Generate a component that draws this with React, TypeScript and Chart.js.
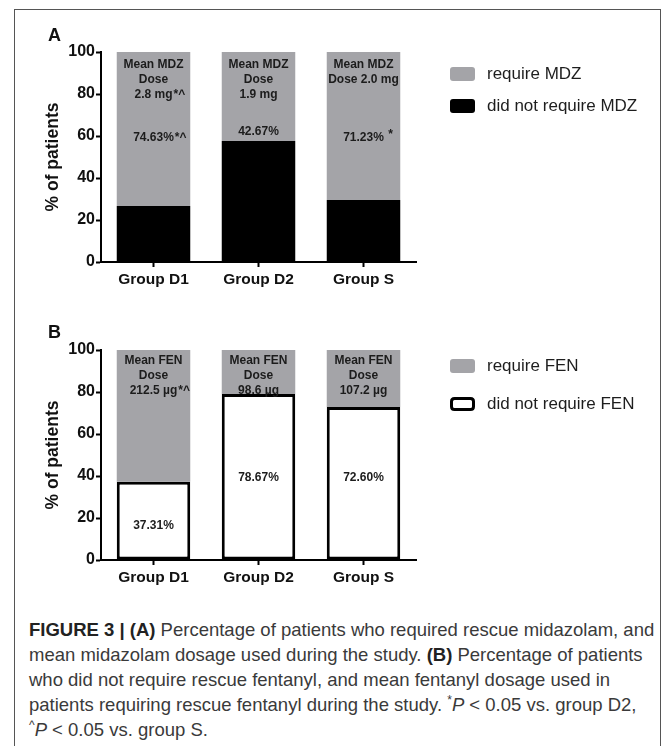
import React, { useEffect, useRef } from "react";
import { Chart, registerables } from "chart.js";

Chart.register(...registerables);

const categories = ["Group D1", "Group D2", "Group S"];
const yTicks = [0, 20, 40, 60, 80, 100];

// Panel A — midazolam
const mdzNotRequired = [26.7, 57.6, 29.5];
const mdzRequired = [73.3, 42.4, 70.5];
const mdzDoseLines = [
  ["Mean MDZ", "Dose", "2.8 mg"],
  ["Mean MDZ", "Dose", "1.9 mg"],
  ["Mean MDZ", "Dose 2.0 mg"],
];
const mdzDoseSig = ["*^", "", ""];
const mdzPctLabels = ["74.63%", "42.67%", "71.23%"];
const mdzPctSig = ["*^", "", " *"];

// Panel B — fentanyl
const fenNotRequired = [37.3, 79.0, 72.9];
const fenRequired = [62.7, 21.0, 27.1];
const fenDoseLines = [
  ["Mean FEN", "Dose", "212.5 µg"],
  ["Mean FEN", "Dose", "98.6 µg"],
  ["Mean FEN", "Dose", "107.2 µg"],
];
const fenDoseSig = ["*^", "", ""];
const fenPctLabels = ["37.31%", "78.67%", "72.60%"];
const fenPctSig = ["", "", ""];

const FONT = '"Liberation Sans", Arial, Helvetica, sans-serif';
const GRAY = "#a4a4a8";

type PanelCfg = {
  panel: string;
  panelDy: number;
  doseLines: string[][];
  doseSig: string[];
  doseTop: number;
  doseStep: number;
  pctLabels: string[];
  pctSig: string[];
  mode: "A" | "B";
  legendTop: number;
  legendStep: number;
};

function roundRect(ctx: CanvasRenderingContext2D, x: number, y: number, w: number, h: number, r: number) {
  ctx.beginPath();
  ctx.moveTo(x + r, y);
  ctx.lineTo(x + w - r, y);
  ctx.quadraticCurveTo(x + w, y, x + w, y + r);
  ctx.lineTo(x + w, y + h - r);
  ctx.quadraticCurveTo(x + w, y + h, x + w - r, y + h);
  ctx.lineTo(x + r, y + h);
  ctx.quadraticCurveTo(x, y + h, x, y + h - r);
  ctx.lineTo(x, y + r);
  ctx.quadraticCurveTo(x, y, x + r, y);
  ctx.closePath();
}

function makePlugin(cfg: PanelCfg) {
  return {
    id: "annot" + cfg.panel,
    afterDraw(chart: any) {
      const ctx: CanvasRenderingContext2D = chart.ctx;
      const xs = chart.scales.x;
      const ys = chart.scales.y;
      const area = chart.chartArea;
      const base = chart.data.datasets[0].data as number[];
      ctx.save();
      // panel letter
      ctx.fillStyle = "#111";
      ctx.textBaseline = "middle";
      ctx.textAlign = "left";
      ctx.font = `bold 18px ${FONT}`;
      ctx.fillText(cfg.panel, 48, area.top - cfg.panelDy);

      // in-bar texts
      ctx.font = `bold 12px ${FONT}`;
      ctx.fillStyle = "#1c1c1c";
      categories.forEach((_, i) => {
        const cx = xs.getPixelForValue(i);
        const topPx = ys.getPixelForValue(100);
        const lines = cfg.doseLines[i];
        lines.forEach((t, j) => {
          const ly = topPx + cfg.doseTop + j * cfg.doseStep;
          ctx.textAlign = "center";
          ctx.fillText(t, cx, ly);
          if (j === lines.length - 1 && cfg.doseSig[i]) {
            const w = ctx.measureText(t).width;
            ctx.textAlign = "left";
            ctx.fillText(cfg.doseSig[i], cx + w / 2 + 1, ly);
          }
        });
        let py: number;
        const vTop = ys.getPixelForValue(base[i]);
        if (cfg.mode === "A") {
          py = Math.min(ys.getPixelForValue(59), vTop - 9);
        } else {
          py = base[i] > 60 ? ys.getPixelForValue(39) : (ys.getPixelForValue(0) + vTop) / 2 + 5;
        }
        const t = cfg.pctLabels[i];
        ctx.textAlign = "center";
        ctx.fillText(t, cx, py);
        if (cfg.pctSig[i]) {
          const w = ctx.measureText(t).width;
          ctx.textAlign = "left";
          ctx.fillText(cfg.pctSig[i], cx + w / 2 + 1, py - (cfg.pctSig[i].trim() === "*" ? 3 : 0));
        }
      });

      // legend (top item = top stack segment)
      const ds = chart.data.datasets.slice().reverse();
      const bx = area.right + 34;
      ds.forEach((d: any, k: number) => {
        const cy = area.top + cfg.legendTop + k * cfg.legendStep;
        const bw = d.borderWidth || 0;
        if (bw > 0) {
          roundRect(ctx, bx + bw / 2, cy - 7 + bw / 2, 25 - bw, 14 - bw, 3);
          ctx.fillStyle = d.backgroundColor;
          ctx.fill();
          ctx.lineWidth = bw;
          ctx.strokeStyle = d.borderColor;
          ctx.stroke();
        } else {
          roundRect(ctx, bx, cy - 7, 25, 14, 3);
          ctx.fillStyle = d.backgroundColor;
          ctx.fill();
        }
        ctx.fillStyle = "#1e1e1e";
        ctx.font = `17px ${FONT}`;
        ctx.textAlign = "left";
        ctx.textBaseline = "middle";
        ctx.fillText(d.label, 487, cy);
      });
      ctx.restore();
    },
  };
}

function makeConfig(
  bottomData: number[],
  topData: number[],
  bottomLabel: string,
  topLabel: string,
  bottomStyle: any,
  padTop: number,
  xHeight: number,
  cfg: PanelCfg
): any {
  return {
    type: "bar",
    data: {
      labels: categories,
      datasets: [
        {
          label: bottomLabel,
          data: bottomData,
          ...bottomStyle,
          barPercentage: 0.7,
          categoryPercentage: 1,
        },
        {
          label: topLabel,
          data: topData,
          backgroundColor: GRAY,
          borderWidth: 0,
          barPercentage: 0.7,
          categoryPercentage: 1,
        },
      ],
    },
    options: {
      animation: false,
      responsive: false,
      maintainAspectRatio: false,
      layout: { padding: { left: 0, top: padTop, right: 253, bottom: 0 } },
      plugins: { legend: { display: false }, tooltip: { enabled: false } },
      scales: {
        x: {
          stacked: true,
          grid: {
            display: true,
            drawOnChartArea: false,
            drawTicks: true,
            tickLength: 5,
            tickWidth: 2,
            tickColor: "#000",
            offset: false,
          },
          border: { display: true, color: "#000", width: 2 },
          ticks: { color: "#111", font: { family: FONT, size: 15.5, weight: "bold" }, padding: 3 },
          afterFit: (s: any) => {
            s.height = xHeight;
          },
        },
        y: {
          stacked: true,
          min: 0,
          max: 100,
          afterBuildTicks: (s: any) => {
            s.ticks = yTicks.map((v) => ({ value: v }));
          },
          grid: {
            display: true,
            drawOnChartArea: false,
            drawTicks: true,
            tickLength: 5,
            tickWidth: 2,
            tickColor: "#000",
          },
          border: { display: true, color: "#000", width: 2 },
          ticks: { color: "#111", font: { family: FONT, size: 16, weight: "bold" }, padding: 1 },
          title: {
            display: true,
            text: "% of patients",
            color: "#111",
            font: { family: FONT, size: 17.5, weight: "bold" },
            padding: { top: 43, bottom: 0 },
          },
          afterFit: (s: any) => {
            s.width = 101;
          },
        },
      },
    },
    plugins: [makePlugin(cfg)],
  };
}

function Panel({ config, top }: { config: any; top: number }) {
  const ref = useRef<HTMLCanvasElement | null>(null);
  useEffect(() => {
    if (!ref.current) return;
    const chart = new Chart(ref.current, config);
    return () => chart.destroy();
  }, [config]);
  return (
    <canvas
      ref={ref}
      width={669}
      height={300}
      style={{ position: "absolute", left: 0, top, width: 669, height: 300 }}
    />
  );
}

const configA = makeConfig(
  mdzNotRequired,
  mdzRequired,
  "did not require MDZ",
  "require MDZ",
  { backgroundColor: "#000", borderWidth: 0 },
  52,
  38,
  {
    panel: "A",
    panelDy: 16,
    doseLines: mdzDoseLines,
    doseSig: mdzDoseSig,
    doseTop: 13,
    doseStep: 15,
    pctLabels: mdzPctLabels,
    pctSig: mdzPctSig,
    mode: "A",
    legendTop: 22,
    legendStep: 32,
  }
);

const configB = makeConfig(
  fenNotRequired,
  fenRequired,
  "did not require FEN",
  "require FEN",
  { backgroundColor: "#fff", borderColor: "#000", borderWidth: 3, borderSkipped: false },
  50,
  40,
  {
    panel: "B",
    panelDy: 17,
    doseLines: fenDoseLines,
    doseSig: fenDoseSig,
    doseTop: 11,
    doseStep: 14.7,
    pctLabels: fenPctLabels,
    pctSig: fenPctSig,
    mode: "B",
    legendTop: 16,
    legendStep: 38,
  }
);

export default function App() {
  return (
    <div
      style={{
        position: "absolute",
        left: 0,
        top: 0,
        width: 669,
        height: 746,
        overflow: "hidden",
        background: "#fff",
      }}
    >
      <div
        style={{
          position: "absolute",
          left: 14,
          top: 9,
          width: 647,
          height: 800,
          border: "1px solid #555",
          borderBottom: "none",
          boxSizing: "border-box",
        }}
      />
      <Panel config={configA} top={0} />
      <Panel config={configB} top={300} />
      <div
        style={{
          position: "absolute",
          left: 29,
          top: 617,
          font: `18.5px ${FONT}`,
          lineHeight: "25px",
          color: "#3a3a3a",
          whiteSpace: "nowrap",
        }}
      >
        <div>
          <b style={{ color: "#222" }}>FIGURE 3 | (A)</b> Percentage of patients who required rescue midazolam, and
        </div>
        <div>
          mean midazolam dosage used during the study. <b style={{ color: "#222" }}>(B)</b> Percentage of patients
        </div>
        <div>who did not require rescue fentanyl, and mean fentanyl dosage used in</div>
        <div>
          patients requiring rescue fentanyl during the study. <sup style={{ fontSize: 12, lineHeight: 0 }}>*</sup>
          <i>P</i> &lt; 0.05 vs. group D2,
        </div>
        <div>
          <sup style={{ fontSize: 12, lineHeight: 0 }}>^</sup>
          <i>P</i> &lt; 0.05 vs. group S.
        </div>
      </div>
    </div>
  );
}
